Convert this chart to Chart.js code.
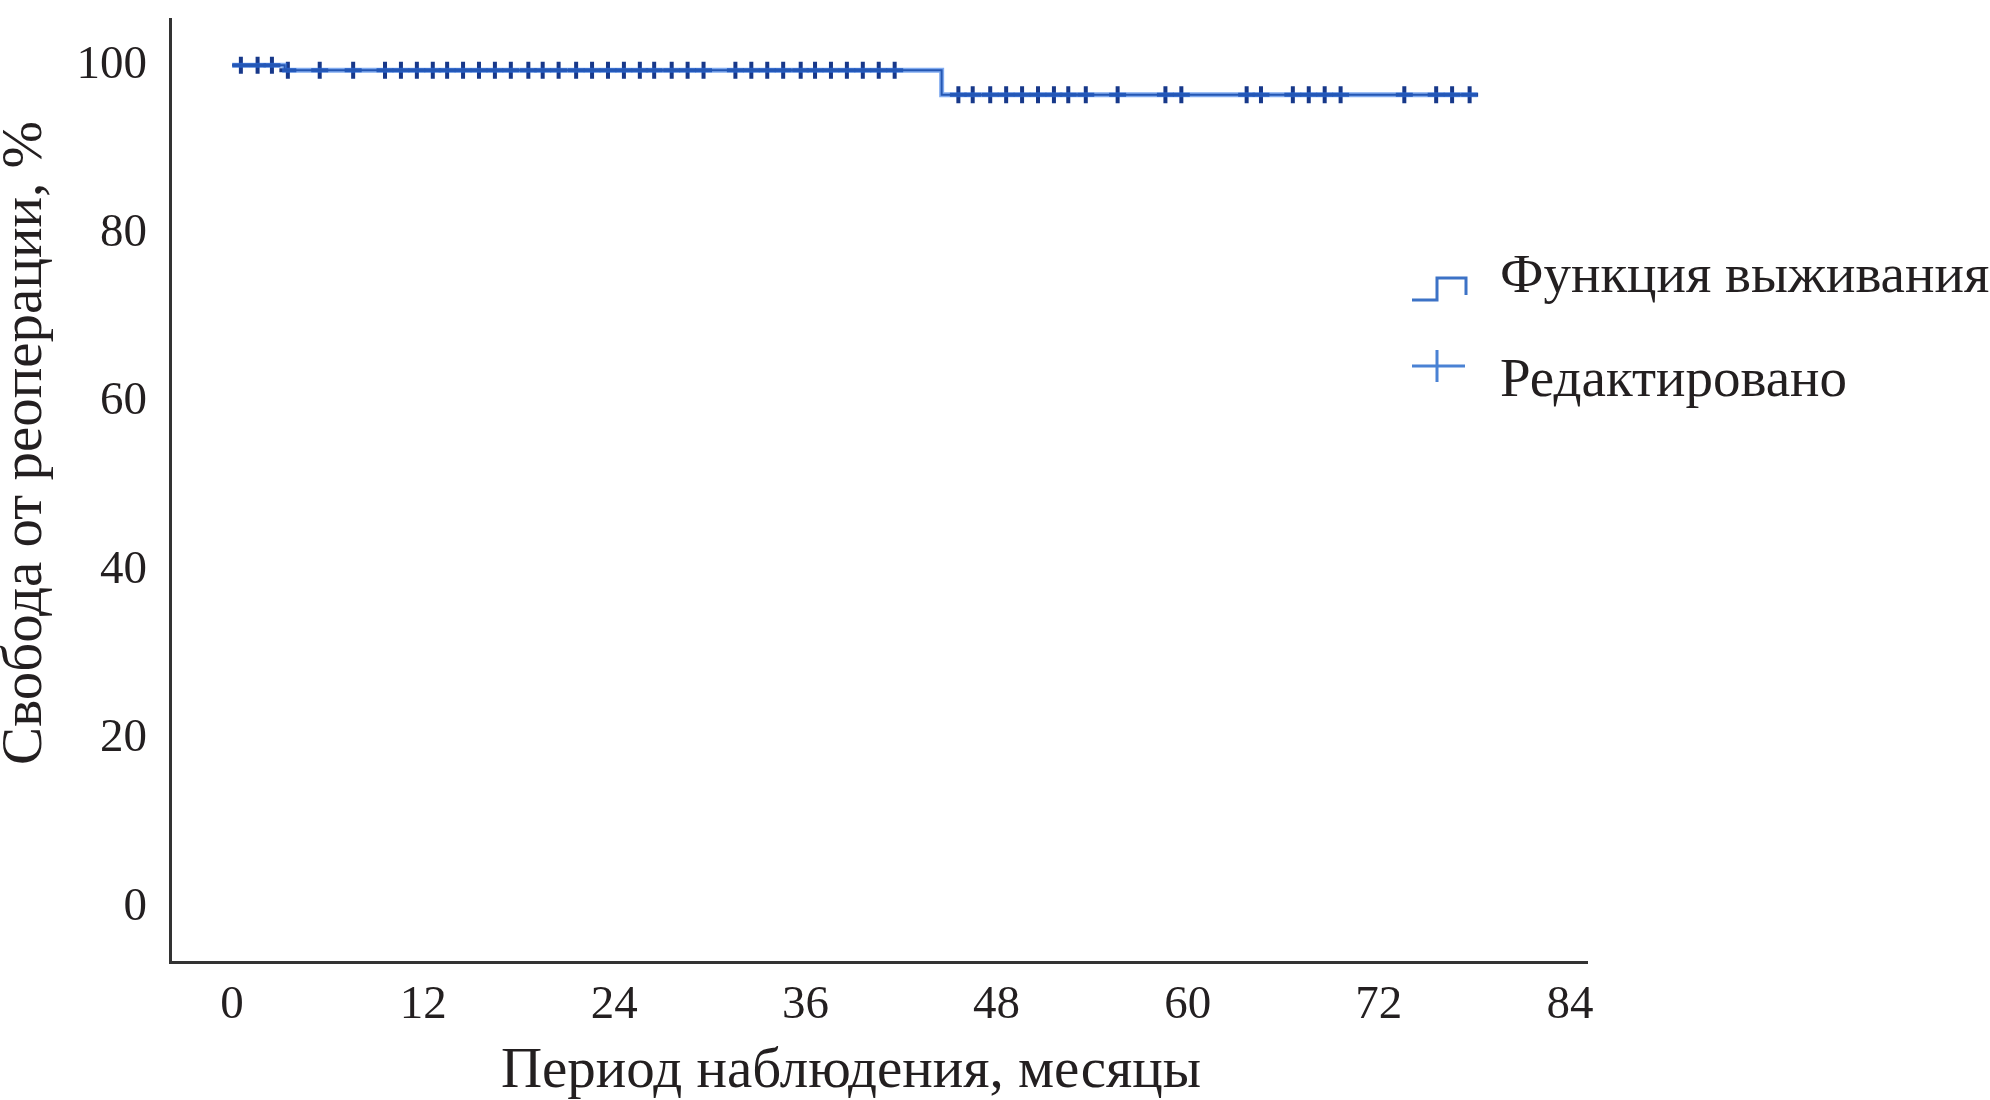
<!DOCTYPE html>
<html>
<head>
<meta charset="utf-8">
<script src="https://cdn.jsdelivr.net/npm/chart.js@4.4.1/dist/chart.umd.min.js"></script>
<style>
  html, body { margin: 0; background: #fff; }
  #wrap { width: 1990px; height: 1100px; }
</style>
</head>
<body>
<div id="wrap"><canvas id="km"></canvas></div>
<script>
// axis ticks
const xTicks = [0, 12, 24, 36, 48, 60, 72, 84];
const yTicks = [0, 20, 40, 60, 80, 100];

// Kaplan-Meier step curve: time in months, % free from reoperation
const survTime = [0, 3.3, 44.55, 78.2];
const survPct = [100, 99.4, 96.5, 96.5];

// censored observations (months)
const censoredTime = [
  0.55, 1.6, 2.5,
  3.5, 5.5, 7.6, 9.6, 10.6, 11.6, 12.6, 13.5, 14.5, 15.5, 16.5, 17.5, 18.6,
  19.5, 20.5, 21.6, 22.6, 23.6, 24.6, 25.6, 26.5, 27.6, 28.6, 29.6, 31.6,
  32.6, 33.6, 34.6, 35.7, 36.6, 37.6, 38.6, 39.6, 40.6, 41.6,
  45.6, 46.5, 47.6, 48.6, 49.6, 50.6, 51.6, 52.5, 53.6, 55.6, 58.6, 59.6,
  63.7, 64.6, 66.6, 67.6, 68.6, 69.6, 73.6, 75.6, 76.6, 77.7
];

const legendLabels = ['Функция выживания', 'Редактировано'];
const xTitle = 'Период наблюдения, месяцы';
const yTitle = 'Свобода от реоперации, %';

const FONT = '"Liberation Serif", "Times New Roman", serif';
const INK = '#231f20';

// value of the step curve at time t (last step at or before t)
function survAt(t) {
  let v = survPct[0];
  for (let i = 0; i < survTime.length; i++) {
    if (survTime[i] <= t) v = survPct[i];
  }
  return v;
}

const curve = survTime.map((t, i) => ({ x: t, y: survPct[i] }));
const censored = censoredTime.map(t => ({ x: t, y: survAt(t) }));

// titles + legend drawn by hand, legend sits over the right of the plot
const decor = {
  id: 'decor',
  afterDraw(chart) {
    const ctx = chart.ctx;
    ctx.save();
    ctx.fillStyle = INK;
    ctx.font = '57px ' + FONT;
    ctx.textAlign = 'center';
    ctx.textBaseline = 'alphabetic';
    ctx.fillText(xTitle, 851, 1087);

    ctx.save();
    ctx.translate(41, 443);
    ctx.rotate(-Math.PI / 2);
    ctx.fillText(yTitle, 0, 0);
    ctx.restore();

    // legend icons
    ctx.lineWidth = 3;
    ctx.strokeStyle = '#3c72c6';
    ctx.beginPath();
    ctx.moveTo(1412, 300);
    ctx.lineTo(1437, 300);
    ctx.lineTo(1437, 278);
    ctx.lineTo(1466, 278);
    ctx.lineTo(1466, 295);
    ctx.stroke();

    ctx.strokeStyle = '#4a82d4';
    ctx.beginPath();
    ctx.moveTo(1412, 366);
    ctx.lineTo(1465, 366);
    ctx.moveTo(1437, 350);
    ctx.lineTo(1437, 382);
    ctx.stroke();

    ctx.font = '55px ' + FONT;
    ctx.textAlign = 'left';
    ctx.fillText(legendLabels[0], 1500, 292);
    ctx.fillText(legendLabels[1], 1500, 396);
    ctx.restore();
  }
};

new Chart(document.getElementById('km'), {
  type: 'line',
  data: {
    datasets: [
      {
        label: legendLabels[0] + ' glow',
        data: curve,
        stepped: 'before',
        borderColor: 'rgba(45,115,230,0.6)',
        borderWidth: 5,
        pointRadius: 0,
        fill: false
      },
      {
        label: legendLabels[0],
        data: curve,
        stepped: 'before',
        borderColor: '#1a2d66',
        borderWidth: 2,
        pointRadius: 0,
        fill: false
      },
      {
        label: legendLabels[1],
        type: 'scatter',
        data: censored,
        showLine: false,
        pointStyle: 'cross',
        pointRadius: 8.5,
        pointBorderWidth: 4,
        pointBorderColor: '#17388a',
        pointBackgroundColor: '#17388a'
      }
    ]
  },
  options: {
    responsive: true,
    maintainAspectRatio: false,
    animation: false,
    devicePixelRatio: 1,
    layout: { padding: { top: 19, right: 403, left: 0, bottom: 0 } },
    plugins: {
      legend: { display: false },
      tooltip: { enabled: false }
    },
    scales: {
      x: {
        type: 'linear',
        min: -3.9,
        max: 85.07,
        afterBuildTicks: s => { s.ticks = xTicks.map(v => ({ value: v })); },
        afterFit: s => { s.height = 138; s.paddingLeft = 0; s.paddingRight = 0; },
        grid: { display: false, drawTicks: false },
        border: { display: true, color: '#333', width: 3 },
        ticks: { color: INK, font: { family: FONT, size: 47 }, padding: 15 }
      },
      y: {
        type: 'linear',
        min: -6.5,
        max: 105.5,
        afterBuildTicks: s => { s.ticks = yTicks.map(v => ({ value: v })); },
        afterFit: s => { s.width = 170; s.paddingTop = 0; s.paddingBottom = 0; },
        grid: { display: false, drawTicks: false },
        border: { display: true, color: '#333', width: 3 },
        ticks: { color: INK, font: { family: FONT, size: 47 }, padding: 23 }
      }
    }
  },
  plugins: [decor]
});
</script>
</body>
</html>
